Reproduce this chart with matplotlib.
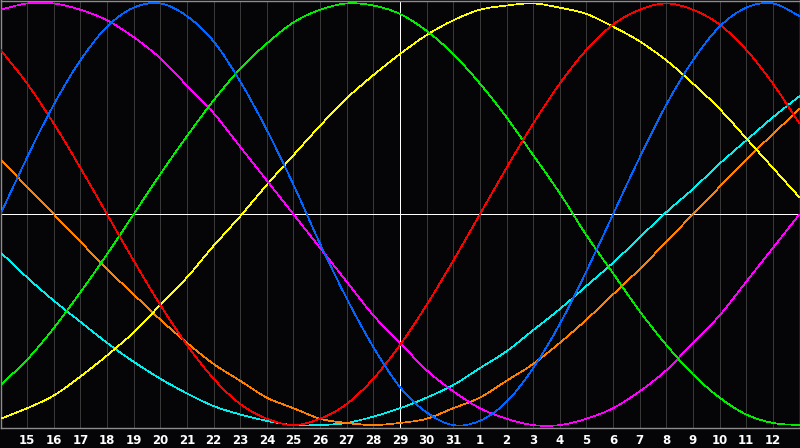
import matplotlib
matplotlib.use('Agg')
import matplotlib.pyplot as plt
from matplotlib.path import Path
from matplotlib.patches import PathPatch

# day index 0..30 across the chart, "today" is index 15
days = list(range(31))
day_labels = ['15', '16', '17', '18', '19', '20', '21', '22', '23', '24', '25',
              '26', '27', '28', '29', '30', '31', '1', '2', '3', '4', '5', '6',
              '7', '8', '9', '10', '11', '12']

# values, one per day (-1 .. 1)
physical = [0.0, 0.27, 0.52, 0.73, 0.89, 0.98, 1.0, 0.94, 0.82, 0.63, 0.40,
            0.14, -0.14, -0.40, -0.63, -0.82, -0.94, -1.0, -0.98, -0.89, -0.73,
            -0.52, -0.27, 0.0, 0.27, 0.52, 0.73, 0.89, 0.98, 1.0, 0.94]
emotional = [0.78, 0.62, 0.43, 0.22, 0.0, -0.22, -0.43, -0.62, -0.78, -0.90,
             -0.97, -1.0, -0.97, -0.90, -0.78, -0.62, -0.43, -0.22, 0.0, 0.22,
             0.43, 0.62, 0.78, 0.90, 0.97, 1.0, 0.97, 0.90, 0.78, 0.62, 0.43]
intellectual = [-0.81, -0.69, -0.54, -0.37, -0.19, 0.0, 0.19, 0.37, 0.54, 0.69,
                0.81, 0.91, 0.97, 1.0, 0.99, 0.95, 0.87, 0.76, 0.62, 0.46, 0.28,
                0.10, -0.10, -0.28, -0.46, -0.62, -0.76, -0.87, -0.95, -0.99, -1.0]
intuitive = [0.97, 1.0, 1.0, 0.97, 0.92, 0.84, 0.74, 0.61, 0.48, 0.32, 0.16,
             0.0, -0.16, -0.32, -0.48, -0.61, -0.74, -0.84, -0.92, -0.97, -1.0,
             -1.0, -0.97, -0.92, -0.84, -0.74, -0.61, -0.48, -0.32, -0.16, 0.0]
aesthetic = [-0.97, -0.92, -0.86, -0.77, -0.67, -0.56, -0.43, -0.30, -0.15,
             -0.01, 0.14, 0.28, 0.42, 0.55, 0.66, 0.76, 0.85, 0.92, 0.97, 0.99,
             1.0, 0.98, 0.95, 0.89, 0.82, 0.73, 0.62, 0.50, 0.36, 0.22, 0.08]
awareness = [0.26, 0.13, 0.0, -0.13, -0.26, -0.38, -0.50, -0.61, -0.71, -0.79,
             -0.87, -0.92, -0.97, -0.99, -1.0, -0.99, -0.97, -0.92, -0.87, -0.79,
             -0.71, -0.61, -0.50, -0.38, -0.26, -0.13, 0.0, 0.13, 0.26, 0.38, 0.50]
spiritual = [-0.18, -0.30, -0.41, -0.51, -0.61, -0.70, -0.78, -0.85, -0.91,
             -0.95, -0.98, -1.0, -1.0, -0.99, -0.96, -0.92, -0.87, -0.81, -0.73,
             -0.65, -0.55, -0.45, -0.34, -0.23, -0.11, 0.01, 0.12, 0.24, 0.35,
             0.46, 0.56]

series = [
    (spiritual, '#00f0f0'),
    (awareness, '#ff7f00'),
    (aesthetic, '#ffff00'),
    (intuitive, '#ff00ff'),
    (intellectual, '#00ee00'),
    (emotional, '#ff0000'),
    (physical, '#0066ff'),
]


def smooth_path(xs, ys):
    # catmull-rom style bezier through the daily points
    pts = list(zip(xs, ys))
    verts = [pts[0]]
    codes = [Path.MOVETO]
    n = len(pts)
    for i in range(n - 1):
        p0 = pts[i - 1] if i > 0 else pts[i]
        p1 = pts[i]
        p2 = pts[i + 1]
        p3 = pts[i + 2] if i + 2 < n else pts[i + 1]
        c1 = (p1[0] + (p2[0] - p0[0]) / 6, p1[1] + (p2[1] - p0[1]) / 6)
        c2 = (p2[0] - (p3[0] - p1[0]) / 6, p2[1] - (p3[1] - p1[1]) / 6)
        verts += [c1, c2, p2]
        codes += [Path.CURVE4] * 3
    return Path(verts, codes)


bg = '#050507'
fig = plt.figure(figsize=(8, 4.48), dpi=100, facecolor=bg)
ax = fig.add_axes([0.5 / 800, 20 / 448, 799 / 800, 427.5 / 448])
ax.set_facecolor(bg)

for d in days[1:-1]:
    ax.axvline(d, color='#383838', lw=0.72, antialiased=False, zorder=1)
ax.axvline(15, color='white', lw=0.72, antialiased=False, zorder=2)
ax.axhline(0, color='white', lw=0.72, antialiased=False, zorder=2)

for vals, col in series:
    ax.add_patch(PathPatch(smooth_path(days, vals), fill=False, edgecolor=col,
                           lw=0.5, antialiased=False, zorder=3))

ax.set_xlim(0, 30)
ax.set_ylim(-1.014, 1.014)
ax.set_xticks(days[1:-1])
ax.set_xticklabels(day_labels, color='white', fontweight='bold', fontsize=8.5)
ax.set_yticks([])
ax.tick_params(length=0, pad=4)
for s in ax.spines.values():
    s.set_color('#8c8c8c')
    s.set_linewidth(1.0)

fig.savefig('out.png', dpi=100, facecolor=bg)
